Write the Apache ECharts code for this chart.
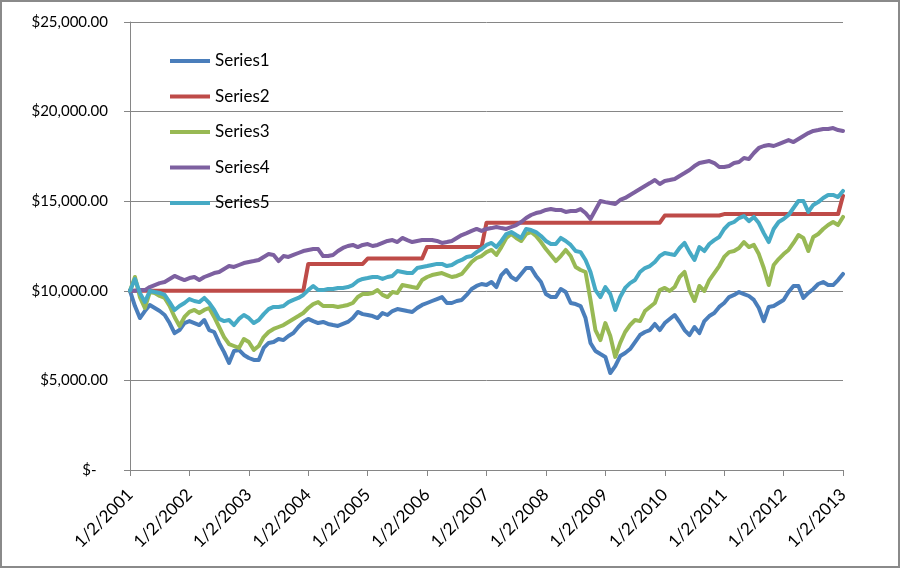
<!DOCTYPE html>
<html>
<head>
<meta charset="utf-8">
<script src="https://cdn.jsdelivr.net/npm/echarts@6/dist/echarts.min.js"></script>
<style>
html,body{margin:0;padding:0;background:#fff;}
#chart{width:900px;height:568px;}
</style>
</head>
<body>
<div id="chart"></div>
<script>
const tickLabels = ['1/2/2001','1/2/2002','1/2/2003','1/2/2004','1/2/2005','1/2/2006','1/2/2007','1/2/2008','1/2/2009','1/2/2010','1/2/2011','1/2/2012','1/2/2013'];
const seriesNames = ['Series1','Series2','Series3','Series4','Series5'];

const series1 = [10000,9150,8480,8870,9210,9040,8870,8650,8200,7640,7810,8200,8310,8200,8090,8370,7810,7700,7090,6580,5970,6640,6700,6420,6250,6140,6140,6810,7090,7140,7310,7250,7480,7640,7980,8260,8430,8310,8200,8260,8150,8090,8040,8150,8260,8480,8820,8700,8650,8590,8480,8760,8650,8870,8980,8930,8870,8820,9040,9210,9320,9430,9540,9650,9320,9320,9430,9490,9770,10100,10270,10380,10320,10490,10210,10880,11160,10770,10600,10940,11270,11270,10830,10490,9820,9650,9650,10100,9930,9320,9260,9150,8480,7090,6640,6470,6310,5410,5800,6360,6530,6750,7140,7530,7700,7810,8150,7810,8200,8430,8650,8260,7810,7530,7980,7640,8310,8590,8760,9100,9320,9650,9770,9930,9820,9710,9490,9040,8310,9100,9150,9320,9490,9930,10270,10270,9600,9880,10100,10380,10490,10320,10320,10600,10940];

const series2 = [10000,10000,10000,10000,10000,10000,10000,10000,10000,10000,10000,10000,10000,10000,10000,10000,10000,10000,10000,10000,10000,10000,10000,10000,10000,10000,10000,10000,10000,10000,10000,10000,10000,10000,10000,10000,11500,11500,11500,11500,11500,11500,11500,11500,11500,11500,11500,11500,11800,11800,11800,11800,11800,11800,11800,11800,11800,11800,11800,11800,12450,12450,12450,12450,12450,12450,12450,12450,12450,12450,12450,12450,13800,13800,13800,13800,13800,13800,13800,13800,13800,13800,13800,13800,13800,13800,13800,13800,13800,13800,13800,13800,13800,13800,13800,13800,13800,13800,13800,13800,13800,13800,13800,13800,13800,13800,13800,13800,14200,14200,14200,14200,14200,14200,14200,14200,14200,14200,14200,14200,14280,14280,14280,14280,14280,14280,14280,14280,14280,14280,14280,14280,14280,14280,14280,14280,14280,14280,14280,14280,14280,14280,14280,14280,15300];

const series3 = [10000,10770,9650,9040,9930,9880,9710,9600,9150,8540,8040,8540,8820,8930,8760,8930,9040,8540,7980,7420,7030,6920,6810,7310,7140,6700,6920,7420,7700,7870,7980,8090,8260,8430,8590,8760,9040,9260,9370,9150,9150,9150,9100,9150,9210,9320,9650,9820,9820,9880,10040,9770,9650,9930,9880,10320,10270,10210,10160,10600,10770,10880,10940,10990,10880,10770,10830,10940,11270,11610,11830,11940,12160,12280,12000,12440,12950,13170,12950,12780,13170,13280,13060,12720,12330,12000,11660,11940,12280,11940,11330,11160,11050,9490,7810,7250,8200,7480,6310,7090,7700,8090,8370,8310,8870,9100,9320,10040,10160,9990,10210,10770,11050,10040,9430,10270,9990,10600,10990,11380,11890,12160,12220,12390,12720,12440,12560,12050,11270,10320,11440,11770,12050,12280,12670,13110,12950,12220,13000,13170,13450,13670,13840,13670,14120];

const series4 = [10000,10000,10040,10040,10210,10320,10430,10490,10660,10830,10710,10600,10710,10770,10600,10770,10880,10990,11050,11220,11380,11330,11440,11550,11610,11660,11720,11890,12050,12000,11660,11940,11890,12000,12110,12220,12280,12330,12330,11940,11940,12000,12220,12390,12500,12560,12440,12560,12610,12500,12560,12670,12780,12830,12720,12950,12830,12720,12780,12830,12830,12830,12780,12670,12720,12780,12950,13110,13220,13340,13450,13340,13450,13500,13560,13500,13450,13560,13670,13840,14060,14230,14340,14400,14510,14560,14510,14510,14400,14450,14450,14560,14340,14010,14510,15010,14950,14900,14840,15070,15180,15350,15510,15680,15850,16010,16180,15960,16130,16180,16240,16410,16570,16740,16960,17130,17190,17240,17130,16910,16910,16960,17130,17190,17410,17350,17690,17970,18080,18140,18080,18190,18300,18410,18300,18470,18640,18800,18920,18970,19030,19030,19080,18970,18920];

const series5 = [10000,10660,9880,9370,9990,9930,9880,9770,9370,8930,9150,9320,9540,9430,9370,9600,9320,8930,8430,8310,8370,8090,8430,8650,8480,8200,8370,8700,8980,9100,9100,9150,9370,9490,9600,9770,10040,10270,10040,10040,10100,10100,10160,10160,10210,10320,10550,10660,10710,10770,10770,10660,10770,10830,11100,11050,10990,10990,11270,11330,11380,11440,11500,11500,11380,11440,11610,11720,11890,11940,12160,12330,12560,12670,12440,12780,13170,13280,13110,12950,13450,13390,13280,13060,12780,12610,12610,12950,12780,12560,12220,12160,11720,11050,10040,9650,10210,9820,8930,9650,10160,10430,10600,11050,11270,11380,11610,11940,12110,12050,12000,12390,12670,12160,11720,12440,12220,12610,12830,13000,13450,13730,13840,14060,14170,13890,14120,13780,13220,12720,13450,13840,14010,14230,14620,15010,15010,14400,14790,14950,15180,15350,15350,15230,15570];

const colors = ['#4A7EBB','#BE4B48','#98B954','#7D60A0','#46AAC5'];
const allData = [series1, series2, series3, series4, series5];

// monthly categories built from the year tick labels
const categories = [];
for (let y = 0; y < tickLabels.length; y++) {
  const yr = tickLabels[y].split('/')[2];
  for (let m = 0; m < 12; m++) {
    if (y === tickLabels.length - 1 && m > 0) break;
    categories.push(m === 0 ? tickLabels[y] : (m + 1) + '/1/' + yr);
  }
}

const chart = echarts.init(document.getElementById('chart'), null, {renderer: 'canvas'});
const axisColor = '#868686';
const font = 'Lato, "Open Sans", sans-serif';

chart.setOption({
  animation: false,
  backgroundColor: '#ffffff',
  color: colors,
  graphic: [{
    type: 'rect',
    shape: {x: 1, y: 1, width: 898, height: 566},
    style: {fill: null, stroke: '#8a8a8a', lineWidth: 2},
    silent: true
  }],
  grid: {left: 130, right: 57, top: 22, bottom: 98},
  legend: {
    orient: 'vertical',
    left: 165,
    top: 46,
    itemWidth: 40,
    itemHeight: 4,
    itemGap: 15.5,
    icon: 'rect',
    textStyle: {fontSize: 17, lineHeight: 20, color: '#000', fontFamily: font},
    data: seriesNames
  },
  xAxis: {
    type: 'category',
    data: categories,
    boundaryGap: false,
    axisLine: {lineStyle: {color: axisColor, width: 1}},
    axisTick: {show: true, interval: (i) => i % 12 === 0, length: 6, lineStyle: {color: axisColor}},
    axisLabel: {
      interval: (i) => i % 12 === 0,
      rotate: 45,
      margin: 22,
      fontSize: 17,
      color: '#000',
      fontFamily: font
    },
    splitLine: {show: false}
  },
  yAxis: {
    type: 'value',
    min: 0,
    max: 25000,
    interval: 5000,
    axisLine: {show: true, lineStyle: {color: axisColor, width: 1}},
    axisTick: {show: true, length: 6, lineStyle: {color: axisColor}},
    axisLabel: {
      margin: 22,
      fontSize: 15,
      color: '#000',
      fontFamily: font,
      formatter: (v) => v === 0 ? '$-   ' : '$' + v.toLocaleString('en-US', {minimumFractionDigits: 2, maximumFractionDigits: 2})
    },
    splitLine: {show: true, lineStyle: {color: axisColor, width: 1}}
  },
  series: seriesNames.map((name, k) => ({
    name: name,
    type: 'line',
    data: allData[k],
    symbol: 'none',
    smooth: false,
    lineStyle: {width: 4, color: colors[k], cap: 'round', join: 'round'},
    itemStyle: {color: colors[k]}
  }))
});
</script>
</body>
</html>
